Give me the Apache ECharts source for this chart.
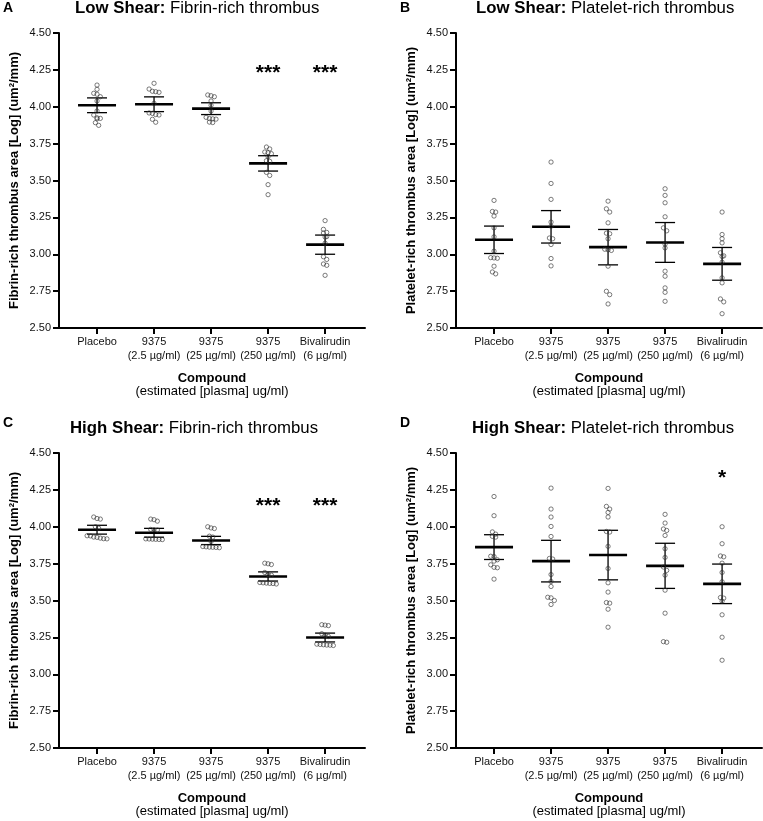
<!DOCTYPE html>
<html><head><meta charset="utf-8">
<script src="https://cdn.jsdelivr.net/npm/echarts@6/dist/echarts.min.js"></script>
<style>html,body{margin:0;padding:0;background:#fff}#c{width:763px;height:821px}</style>
</head><body><div id="c"></div>
<script>
// ---------------- DATA ----------------
const categories = ['Placebo', '9375\n(2.5 µg/ml)', '9375\n(25 µg/ml)', '9375\n(250 µg/ml)', 'Bivalirudin\n(6 µg/ml)'];
const yMin = 2.5, yMax = 4.5, yStep = 0.25;

// Panel A: Low shear, fibrin-rich
const lowFibPlacebo = [4.147, 4.118, 4.091, 4.085, 4.068, 4.039, 3.971, 3.944, 3.925, 3.921, 3.918, 3.892, 3.874];
const lowFib2_5 = [4.159, 4.120, 4.102, 4.098, 4.105, 4.023, 3.958, 3.955, 3.947, 3.944, 3.915, 3.895];
const lowFib25 = [4.080, 4.075, 4.068, 4.039, 4.010, 3.971, 3.928, 3.920, 3.918, 3.916, 3.896, 3.893];
const lowFib250 = [3.727, 3.714, 3.693, 3.689, 3.682, 3.662, 3.634, 3.630, 3.555, 3.534, 3.472, 3.404];
const lowFibBival = [3.228, 3.169, 3.148, 3.144, 3.120, 3.117, 3.075, 2.983, 2.965, 2.934, 2.925, 2.857];
const lowFibMean = [4.010, 4.017, 3.987, 3.616, 3.065];
const lowFibSem = [0.050, 0.050, 0.040, 0.052, 0.065];
const lowFibStars = ['', '', '', '***', '***'];
const lowFibStarLevel = 4.254;

// Panel B: Low shear, platelet-rich
const lowPltPlacebo = [3.365, 3.290, 3.286, 3.259, 3.179, 3.118, 3.021, 2.977, 2.975, 2.973, 2.919, 2.880, 2.867];
const lowPlt2_5 = [3.625, 3.480, 3.372, 3.218, 3.190, 3.110, 3.105, 3.066, 2.971, 2.921];
const lowPlt25 = [3.360, 3.308, 3.286, 3.213, 3.143, 3.139, 3.105, 3.034, 3.030, 3.026, 2.919, 2.749, 2.726, 2.663];
const lowPlt250 = [3.444, 3.399, 3.349, 3.254, 3.179, 3.159, 3.068, 3.043, 2.885, 2.851, 2.772, 2.742, 2.681];
const lowPltBival = [3.286, 3.134, 3.105, 3.077, 3.010, 2.989, 2.985, 2.946, 2.840, 2.806, 2.697, 2.677, 2.597];
const lowPltMean = [3.098, 3.186, 3.048, 3.080, 2.935];
const lowPltSem = [0.093, 0.110, 0.120, 0.135, 0.111];
const lowPltStars = ['', '', '', '', ''];
const lowPltStarLevel = 4.3;

// Panel C: High shear, fibrin-rich
const highFibPlacebo = [4.066, 4.056, 4.052, 4.000, 3.990, 3.939, 3.938, 3.930, 3.928, 3.923, 3.919, 3.918];
const highFib2_5 = [4.052, 4.048, 4.038, 3.982, 3.980, 3.978, 3.918, 3.917, 3.916, 3.915, 3.914, 3.913];
const highFib25 = [4.000, 3.992, 3.988, 3.936, 3.930, 3.900, 3.866, 3.864, 3.862, 3.861, 3.860, 3.858];
const highFib250 = [3.753, 3.749, 3.744, 3.690, 3.676, 3.672, 3.622, 3.620, 3.618, 3.616, 3.615, 3.612];
const highFibBival = [3.336, 3.333, 3.330, 3.275, 3.265, 3.256, 3.204, 3.202, 3.200, 3.198, 3.197, 3.195];
const highFibMean = [3.980, 3.959, 3.907, 3.663, 3.249];
const highFibSem = [0.030, 0.030, 0.028, 0.031, 0.030];
const highFibStars = ['', '', '', '***', '***'];
const highFibStarLevel = 4.166;

// Panel D: High shear, platelet-rich
const highPltPlacebo = [4.205, 4.075, 3.965, 3.950, 3.935, 3.930, 3.800, 3.798, 3.776, 3.767, 3.742, 3.725, 3.722, 3.645];
const highPlt2_5 = [4.262, 4.120, 4.066, 4.002, 3.934, 3.785, 3.781, 3.676, 3.629, 3.595, 3.522, 3.518, 3.500, 3.473];
const highPlt25 = [4.260, 4.138, 4.120, 4.097, 4.066, 3.968, 3.964, 3.867, 3.717, 3.620, 3.557, 3.486, 3.482, 3.441, 3.319];
const highPlt250 = [4.084, 4.025, 3.985, 3.975, 3.941, 3.851, 3.792, 3.727, 3.704, 3.672, 3.570, 3.414, 3.221, 3.217];
const highPltBival = [4.000, 3.885, 3.802, 3.796, 3.753, 3.690, 3.627, 3.520, 3.516, 3.495, 3.403, 3.251, 3.095];
const highPltMean = [3.862, 3.767, 3.808, 3.735, 3.613];
const highPltSem = [0.084, 0.141, 0.168, 0.153, 0.134];
const highPltStars = ['', '', '', '', '*'];
const highPltStarLevel = 4.355;

// ---------------- LAYOUT / STYLE ----------------
const FONT = '"Liberation Sans", Arial, Helvetica, sans-serif';
const panels = [
  { letter: 'A', bold: 'Low Shear:', rest: 'Fibrin-rich thrombus', yName: 'Fibrin-rich thrombus area [Log] (um²/mm)',
    groups: [lowFibPlacebo, lowFib2_5, lowFib25, lowFib250, lowFibBival], mean: lowFibMean, sem: lowFibSem, stars: lowFibStars, starLevel: lowFibStarLevel,
    grid: { left: 59, top: 33, width: 306, height: 295 }, letterPos: [3, 1], titlePos: [75, 0] },
  { letter: 'B', bold: 'Low Shear:', rest: 'Platelet-rich thrombus', yName: 'Platelet-rich thrombus area [Log] (um²/mm)',
    groups: [lowPltPlacebo, lowPlt2_5, lowPlt25, lowPlt250, lowPltBival], mean: lowPltMean, sem: lowPltSem, stars: lowPltStars, starLevel: lowPltStarLevel,
    grid: { left: 456, top: 33, width: 306, height: 295 }, letterPos: [400, 1], titlePos: [476, 0] },
  { letter: 'C', bold: 'High Shear:', rest: 'Fibrin-rich thrombus', yName: 'Fibrin-rich thrombus area [Log] (um²/mm)',
    groups: [highFibPlacebo, highFib2_5, highFib25, highFib250, highFibBival], mean: highFibMean, sem: highFibSem, stars: highFibStars, starLevel: highFibStarLevel,
    grid: { left: 59, top: 453, width: 306, height: 295 }, letterPos: [3, 416], titlePos: [70, 420] },
  { letter: 'D', bold: 'High Shear:', rest: 'Platelet-rich thrombus', yName: 'Platelet-rich thrombus area [Log] (um²/mm)',
    groups: [highPltPlacebo, highPlt2_5, highPlt25, highPlt250, highPltBival], mean: highPltMean, sem: highPltSem, stars: highPltStars, starLevel: highPltStarLevel,
    grid: { left: 456, top: 453, width: 306, height: 295 }, letterPos: [400, 416], titlePos: [472, 420] }
];
const xMin = -0.667, xMax = 4.70;

// simple beeswarm: rows of nearly equal values are spread horizontally
function swarm(values, cat, pxPerX, pxPerY) {
  const rowTol = 3.6, spacing = 3.3;
  const sorted = values.slice().sort((a, b) => b - a);
  const rows = [];
  sorted.forEach(v => {
    const last = rows[rows.length - 1];
    if (last && (last[0] - v) * pxPerY < rowTol) last.push(v); else rows.push([v]);
  });
  const out = [];
  rows.forEach(r => {
    r.forEach((v, j) => {
      const off = (j - (r.length - 1) / 2) * spacing / pxPerX;
      out.push([cat + off, v]);
    });
  });
  return out;
}

const option = { animation: false, backgroundColor: '#fff', title: [], grid: [], xAxis: [], yAxis: [], series: [] };

panels.forEach((p, i) => {
  option.title.push({ text: p.letter, left: p.letterPos[0], top: p.letterPos[1], padding: 0,
    textStyle: { fontFamily: FONT, fontSize: 14, fontWeight: 'bold', color: '#000' } });
  option.title.push({ text: '{b|' + p.bold + '} {n|' + p.rest + '}', left: p.titlePos[0], top: p.titlePos[1], padding: 0,
    textStyle: { fontWeight: 'normal', fontSize: 16.8, rich: { b: { fontFamily: FONT, fontSize: 16.8, fontWeight: 'bold', color: '#000' },
                         n: { fontFamily: FONT, fontSize: 16.8, fontWeight: 'normal', color: '#000' } } } });
  option.grid.push(Object.assign({ containLabel: false }, p.grid));
  option.xAxis.push({
    type: 'value', gridIndex: i, min: xMin, max: xMax,
    axisLine: { show: true, onZero: false, lineStyle: { color: '#000', width: 2 } },
    axisTick: { show: true, customValues: [0, 1, 2, 3, 4], length: 6, lineStyle: { color: '#000', width: 2 } },
    axisLabel: { customValues: [0, 1, 2, 3, 4], formatter: v => categories[Math.round(v)], margin: 7,
      fontFamily: FONT, fontSize: 11, color: '#111', lineHeight: 14 },
    splitLine: { show: false },
    name: '{b|Compound}\n{n|(estimated [plasma] ug/ml)}', nameLocation: 'middle', nameGap: 44,
    nameTextStyle: { align: 'center', rich: {
      b: { fontFamily: FONT, fontSize: 13, fontWeight: 'bold', color: '#000', lineHeight: 13, align: 'center' },
      n: { fontFamily: FONT, fontSize: 13, fontWeight: 'normal', color: '#000', lineHeight: 13, align: 'center' } } }
  });
  option.yAxis.push({
    type: 'value', gridIndex: i, min: yMin, max: yMax, interval: yStep,
    axisLine: { show: true, onZero: false, lineStyle: { color: '#000', width: 2 } },
    axisTick: { show: true, length: 6, lineStyle: { color: '#000', width: 2 } },
    axisLabel: { formatter: v => v.toFixed(2), margin: 8, fontFamily: FONT, fontSize: 11, color: '#111' },
    splitLine: { show: false },
    name: p.yName, nameLocation: 'middle', nameGap: 38, nameRotate: 90,
    nameTextStyle: { fontFamily: FONT, fontSize: 13, fontWeight: 'bold', color: '#000' }
  });
  const pxPerX = p.grid.width / (xMax - xMin);
  const pxPerY = p.grid.height / (yMax - yMin);
  // mean + SEM
  option.series.push({
    type: 'custom', xAxisIndex: i, yAxisIndex: i, z: 2,
    data: p.mean.map((m, k) => [k, m, p.sem[k]]),
    renderItem: function (params, api) {
      const x = api.value(0), m = api.value(1), s = api.value(2);
      const c = api.coord([x, m]), hi = api.coord([x, m + s]), lo = api.coord([x, m - s]);
      const mw = 19, cw = 10;
      const thin = { stroke: '#000', lineWidth: 1.3 };
      return { type: 'group', children: [
        { type: 'line', shape: { x1: c[0], y1: hi[1], x2: c[0], y2: lo[1] }, style: thin },
        { type: 'line', shape: { x1: c[0] - cw, y1: hi[1], x2: c[0] + cw, y2: hi[1] }, style: thin },
        { type: 'line', shape: { x1: c[0] - cw, y1: lo[1], x2: c[0] + cw, y2: lo[1] }, style: thin },
        { type: 'line', shape: { x1: c[0] - mw, y1: c[1], x2: c[0] + mw, y2: c[1] }, style: { stroke: '#000', lineWidth: 2.6 } }
      ] };
    }
  });
  // individual points
  let pts = [];
  p.groups.forEach((g, k) => { pts = pts.concat(swarm(g, k, pxPerX, pxPerY)); });
  option.series.push({
    type: 'scatter', xAxisIndex: i, yAxisIndex: i, z: 3, symbol: 'circle', symbolSize: 4.3,
    itemStyle: { color: 'rgba(255,255,255,0)', borderColor: '#333', borderWidth: 0.8 },
    data: pts
  });
  // significance stars
  option.series.push({
    type: 'custom', xAxisIndex: i, yAxisIndex: i, z: 4,
    data: p.stars.map((s, k) => [k, p.starLevel, s]).filter(d => d[2]),
    renderItem: function (params, api) {
      const c = api.coord([api.value(0), api.value(1)]);
      const txt = p.stars.filter(s => s)[params.dataIndex];
      return { type: 'text', x: c[0], y: c[1] + 4,
        style: { text: txt, fontFamily: FONT, fontSize: 21, fontWeight: 'bold', fill: '#000', align: 'center', verticalAlign: 'middle' } };
    }
  });
});

const chart = echarts.init(document.getElementById('c'), null, { renderer: 'canvas' });
chart.setOption(option);
</script></body></html>
